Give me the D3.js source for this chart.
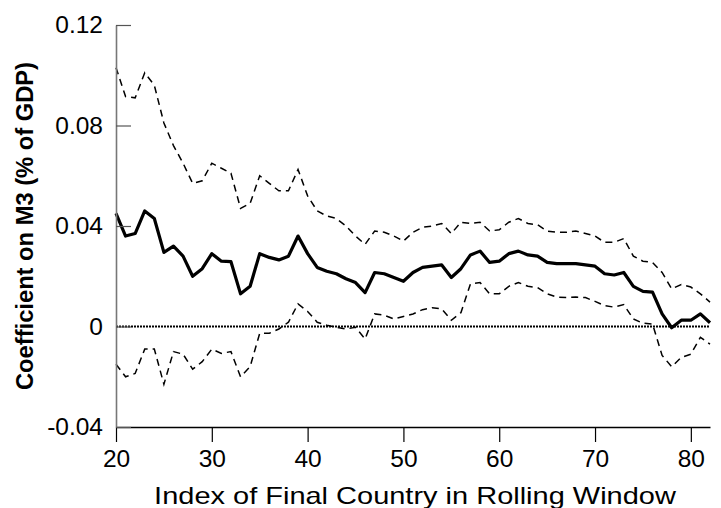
<!DOCTYPE html>
<html>
<head>
<meta charset="utf-8">
<script src="https://cdn.jsdelivr.net/npm/d3@7"></script>
<style>
  body { margin: 0; background: #fff; }
  text { font-family: 'Liberation Sans', Arial, sans-serif; }
</style>
</head>
<body>
<script>
// index of the final country in the rolling window
let windowIndex = d3.range(20, 83);

// point estimate
let coef = [
  0.045, 0.036, 0.037, 0.046, 0.043, 0.0295, 0.032, 0.028, 0.020, 0.023,
  0.029, 0.026, 0.0258, 0.013, 0.016, 0.029, 0.0275, 0.0265, 0.028, 0.036,
  0.029, 0.0235, 0.022, 0.021, 0.019, 0.0175, 0.0135, 0.0215, 0.021, 0.0195,
  0.018, 0.0215, 0.0235, 0.024, 0.0245, 0.0195, 0.023, 0.0285, 0.030, 0.0255,
  0.026, 0.029, 0.030, 0.0285, 0.028, 0.0255, 0.025, 0.025, 0.025, 0.0245,
  0.024, 0.021, 0.0205, 0.0215, 0.016, 0.014, 0.0137, 0.005, -0.0005, 0.0025,
  0.0025, 0.005, 0.0015
];

// upper confidence band
let upper = [
  0.103, 0.0915, 0.091, 0.101, 0.096, 0.081, 0.072, 0.065, 0.057, 0.058,
  0.065, 0.063, 0.061, 0.047, 0.049, 0.060, 0.057, 0.054, 0.054, 0.0625,
  0.052, 0.046, 0.044, 0.043, 0.040, 0.036, 0.0327, 0.038, 0.0375, 0.036,
  0.034, 0.0375, 0.0395, 0.040, 0.041, 0.037, 0.0415, 0.041, 0.0415, 0.038,
  0.0385, 0.0415, 0.043, 0.041, 0.0405, 0.038, 0.0375, 0.0375, 0.038, 0.037,
  0.036, 0.0335, 0.0335, 0.035, 0.028, 0.026, 0.0255, 0.0215, 0.015, 0.0167,
  0.0157, 0.013, 0.0097
];

// lower confidence band
let lower = [
  -0.015, -0.020, -0.0187, -0.009, -0.009, -0.023, -0.010, -0.011, -0.017, -0.014,
  -0.009, -0.0107, -0.010, -0.020, -0.016, -0.0027, -0.0027, -0.001, 0.0017, 0.009,
  0.006, 0.0017, 0.0005, -0.0003, -0.001, -0.0003, -0.005, 0.005, 0.0045, 0.003,
  0.004, 0.005, 0.0067, 0.0075, 0.007, 0.0025, 0.0055, 0.017, 0.0175, 0.013,
  0.013, 0.016, 0.0175, 0.016, 0.0155, 0.013, 0.0117, 0.0115, 0.0117, 0.0115,
  0.010, 0.0083, 0.0077, 0.0087, 0.003, 0.0013, 0.001, -0.0115, -0.016, -0.0123,
  -0.011, -0.0043, -0.007
];

let xTicks = [20, 30, 40, 50, 60, 70, 80];
let yTicks = [-0.04, 0, 0.04, 0.08, 0.12];
let yTickLabels = ['-0.04', '0', '0.04', '0.08', '0.12'];

let width = 721;
let height = 508;

let x = d3.scaleLinear().domain([20, 82]).range([116, 710]);
let y = d3.scaleLinear().domain([-0.04, 0.12]).range([427, 25]);

let svg = d3.select('body')
  .append('svg')
  .attr('width', width)
  .attr('height', height);

// zero reference line
svg.append('line')
  .attr('x1', x(20))
  .attr('x2', x(82))
  .attr('y1', y(0))
  .attr('y2', y(0))
  .attr('stroke', '#000')
  .attr('stroke-width', 2)
  .attr('stroke-dasharray', '2,1');

let line = function (vals) {
  return d3.line()
    .x(function (d, i) { return x(windowIndex[i]); })
    .y(function (d) { return y(d); })(vals);
};

svg.append('path')
  .attr('d', line(upper))
  .attr('fill', 'none')
  .attr('stroke', '#000')
  .attr('stroke-width', 1.5)
  .attr('stroke-dasharray', '7,5');

svg.append('path')
  .attr('d', line(lower))
  .attr('fill', 'none')
  .attr('stroke', '#000')
  .attr('stroke-width', 1.5)
  .attr('stroke-dasharray', '7,5');

svg.append('path')
  .attr('d', line(coef))
  .attr('fill', 'none')
  .attr('stroke', '#000')
  .attr('stroke-width', 3.2)
  .attr('stroke-linejoin', 'round');

// axes
let xAxis = d3.axisBottom(x)
  .tickValues(xTicks)
  .tickSize(15)
  .tickSizeOuter(0)
  .tickPadding(8)
  .tickFormat(d3.format('d'));

let yAxis = d3.axisLeft(y)
  .tickValues(yTicks)
  .tickSize(-15)
  .tickSizeOuter(0)
  .tickPadding(13)
  .tickFormat(function (d, i) { return yTickLabels[i]; });

let gx = svg.append('g')
  .attr('transform', 'translate(0,' + y(-0.04) + ')')
  .call(xAxis);

let gy = svg.append('g')
  .attr('transform', 'translate(' + x(20) + ',0)')
  .call(yAxis);

gx.select('.domain').attr('stroke', '#000').attr('stroke-width', 1.3);
gx.selectAll('.tick line').attr('stroke', '#000').attr('stroke-width', 1.2);
gy.select('.domain').attr('stroke', '#777').attr('stroke-width', 1.6);
gy.selectAll('.tick line').attr('stroke', '#555').attr('stroke-width', 1.2);

svg.selectAll('.tick text')
  .attr('font-family', "'Liberation Sans', Arial, sans-serif")
  .attr('font-size', 24.5)
  .attr('fill', '#000');

// axis titles (the original text is drawn a little wide)
svg.append('text')
  .attr('transform', 'translate(415,504) scale(1.26,1)')
  .attr('text-anchor', 'middle')
  .style('font-size', '23px')
  .text('Index of Final Country in Rolling Window');

svg.append('text')
  .attr('transform', 'translate(33,226) rotate(-90)')
  .attr('text-anchor', 'middle')
  .attr('textLength', 328)
  .attr('lengthAdjust', 'spacingAndGlyphs')
  .style('font-size', '24px')
  .style('font-weight', 'bold')
  .text('Coefficient on M3 (% of GDP)');
</script>
</body>
</html>
